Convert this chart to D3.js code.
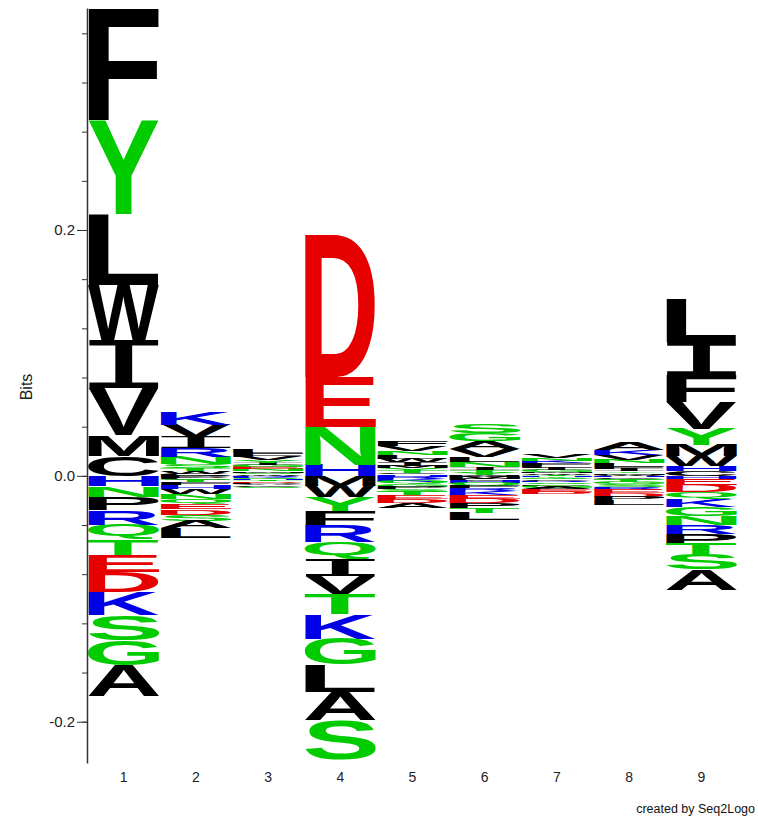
<!DOCTYPE html>
<html>
<head>
<meta charset="utf-8">
<script src="https://cdn.jsdelivr.net/npm/d3@7"></script>
<style>
  body { margin: 0; background: #fff; }
  text { font-family: "Liberation Sans", Arial, Helvetica, sans-serif; }
</style>
</head>
<body>
<div id="logo"></div>
<script>
'use strict';

const width = 758;
const height = 820;

// positions along the sequence
const positions = [1, 2, 3, 4, 5, 6, 7, 8, 9];

// [residue, bits] above zero, listed from the top of the stack down
const pos1Up = [['F', .0920], ['Y', .0756], ['L', .0575], ['W', .0447], ['I', .0390], ['V', .0382], ['M', .0171], ['C', .0163]];
const pos2Up = [['K', .0108], ['V', .0098], ['I', .0090], ['R', .0073], ['N', .0057], ['S', .0033], ['T', .0024], ['W', .0020], ['C', .0018]];
const pos3Up = [['L', .0030], ['F', .0028], ['V', .0025], ['Y', .0022], ['I', .0020], ['G', .0018], ['E', .0016], ['N', .0015], ['M', .0014], ['S', .0013], ['W', .0012]];
const pos4Up = [['D', .1152], ['E', .0407], ['N', .0311], ['H', .0089]];
const pos5Up = [['F', .0040], ['V', .0036], ['N', .0034], ['L', .0032], ['W', .0028], ['I', .0026], ['M', .0022], ['Y', .0020], ['T', .0016], ['C', .0014], ['H', .0012]];
const pos6Up = [['S', .0075], ['G', .0068], ['A', .0065], ['V', .0062], ['L', .0045], ['N', .0040], ['I', .0025], ['T', .0020], ['Y', .0015], ['M', .0010]];
const pos7Up = [['V', .0028], ['N', .0022], ['K', .0020], ['F', .0018], ['L', .0017], ['I', .0016], ['G', .0015], ['M', .0014], ['W', .0011], ['T', .0010]];
const pos8Up = [['A', .0058], ['K', .0042], ['V', .0036], ['N', .0030], ['L', .0026], ['F', .0022], ['I', .0018], ['Y', .0014], ['M', .0012], ['W', .0010]];
const pos9Up = [['L', .0350], ['I', .0268], ['F', .0222], ['V', .0220], ['Y', .0130], ['M', .0089], ['W', .0081], ['C', .0040], ['H', .0040]];

// [residue, bits] below zero, listed from zero downwards
const pos1Down = [['H', .0086], ['N', .0088], ['P', .0108], ['R', .0116], ['Q', .0122], ['T', .0124], ['E', .0136], ['D', .0163], ['K', .0190], ['S', .0203], ['G', .0205], ['A', .0250]];
const pos2Down = [['P', .0016], ['C', .0017], ['T', .0020], ['F', .0021], ['H', .0033], ['W', .0040], ['N', .0041], ['Q', .0042], ['E', .0043], ['D', .0045], ['S', .0049], ['A', .0060], ['L', .0082]];
const pos3Down = [['R', .0008], ['K', .0009], ['Q', .0009], ['H', .0009], ['T', .0010], ['D', .0010], ['P', .0011], ['A', .0012], ['C', .0012], ['S', .0013]];
const pos4Down = [['M', .0081], ['W', .0090], ['Y', .0114], ['F', .0122], ['R', .0130], ['Q', .0138], ['I', .0138], ['V', .0146], ['T', .0163], ['K', .0203], ['G', .0212], ['L', .0220], ['A', .0228], ['S', .0325]];
const pos5Down = [['H', .0012], ['R', .0016], ['K', .0018], ['Q', .0020], ['G', .0021], ['P', .0022], ['S', .0024], ['T', .0026], ['E', .0030], ['D', .0034], ['A', .0042]];
const pos6Down = [['W', .0012], ['M', .0015], ['C', .0016], ['H', .0018], ['Q', .0020], ['F', .0020], ['R', .0024], ['K', .0028], ['E', .0032], ['D', .0036], ['P', .0038], ['T', .0040], ['L', .0058]];
const pos7Down = [['H', .0009], ['Y', .0010], ['Q', .0011], ['C', .0011], ['R', .0012], ['S', .0013], ['P', .0014], ['G', .0015], ['A', .0016], ['E', .0017], ['D', .0018]];
const pos8Down = [['H', .0010], ['C', .0012], ['Q', .0014], ['T', .0016], ['G', .0018], ['S', .0020], ['R', .0022], ['E', .0026], ['D', .0030], ['P', .0032], ['L', .0036]];
const pos9Down = [['H', .0024], ['E', .0049], ['D', .0057], ['Q', .0057], ['K', .0065], ['G', .0073], ['N', .0073], ['R', .0073], ['P', .0081], ['T', .0089], ['S', .0122], ['A', .0163]];

const upStacks = [pos1Up, pos2Up, pos3Up, pos4Up, pos5Up, pos6Up, pos7Up, pos8Up, pos9Up];
const downStacks = [pos1Down, pos2Down, pos3Down, pos4Down, pos5Down, pos6Down, pos7Down, pos8Down, pos9Down];

// y axis ticks
const minorTicks = [-0.2, -0.16, -0.12, -0.08, -0.04, 0, 0.04, 0.08, 0.12, 0.16, 0.2, 0.24, 0.28, 0.32, 0.36];
const majorTicks = [-0.2, 0.0, 0.2];

// residue colour groups
const colorOf = (aa) => {
    if ('DE'.includes(aa)) return '#e60000';
    if ('HKR'.includes(aa)) return '#0000e6';
    if ('YNQTSG'.includes(aa)) return '#00cc00';
    return '#000000';
};
const fontOf = (aa) => aa === 'I'
    ? '"DejaVu Sans Mono", monospace'
    : '"Liberation Sans", Arial, Helvetica, sans-serif';
const weightOf = (aa) => aa === 'I' ? 'normal' : 'bold';

const svg = d3.select('#logo').append('svg')
    .attr('width', width)
    .attr('height', height);

const axisX = 87;

const x = d3.scaleBand()
    .domain(positions)
    .range([88, 737])
    .paddingInner(0.013)
    .paddingOuter(0);

const y = d3.scaleLinear()
    .domain([-0.2336, 0.3806])
    .range([763, 8]);

// tight ink box of each glyph, measured once
const ctx = document.createElement('canvas').getContext('2d');
const boxes = {};
function glyphBox(aa) {
    if (!boxes[aa]) {
        ctx.font = weightOf(aa) + ' 100px ' + fontOf(aa);
        const m = ctx.measureText(aa);
        boxes[aa] = {
            l: m.actualBoundingBoxLeft,
            r: m.actualBoundingBoxRight,
            a: m.actualBoundingBoxAscent,
            d: m.actualBoundingBoxDescent
        };
    }
    return boxes[aa];
}

// build letter rectangles: stack outward from zero, smallest nearest zero
let letters = [];
positions.forEach((p, i) => {
    const up = upStacks[i].slice().sort((a, b) => a[1] - b[1]);
    let acc = 0;
    up.forEach(([aa, v]) => {
        letters.push({ pos: p, aa: aa, top: acc + v, bottom: acc });
        acc += v;
    });
    const down = downStacks[i].slice().sort((a, b) => a[1] - b[1]);
    acc = 0;
    down.forEach(([aa, v]) => {
        letters.push({ pos: p, aa: aa, top: -acc, bottom: -acc - v });
        acc += v;
    });
});

const g = svg.append('g');

g.selectAll('text.letter').data(letters)
    .enter().append('text')
    .attr('class', 'letter')
    .attr('fill', d => colorOf(d.aa))
    .style('font-family', d => fontOf(d.aa))
    .style('font-weight', d => weightOf(d.aa))
    .style('font-size', '100px')
    .attr('transform', d => {
        const b = glyphBox(d.aa);
        const x0 = x(d.pos);
        const y0 = y(d.top);
        const w = x.bandwidth();
        const h = y(d.bottom) - y(d.top);
        const sx = w / (b.l + b.r);
        const sy = h / (b.a + b.d);
        return `translate(${x0},${y0}) scale(${sx},${sy}) translate(${b.l},${b.a})`;
    })
    .text(d => d.aa);

// y axis: minor ticks, then labelled major ticks
svg.append('g')
    .attr('transform', `translate(${axisX},0)`)
    .call(d3.axisLeft(y).tickValues(minorTicks).tickSize(5).tickSizeOuter(0).tickFormat(''))
    .call(a => a.select('.domain').attr('stroke', '#333').attr('stroke-width', 1.5));

svg.append('g')
    .attr('transform', `translate(${axisX},0)`)
    .call(d3.axisLeft(y).tickValues(majorTicks).tickSize(10).tickPadding(2).tickFormat(d => d.toFixed(1)))
    .call(a => a.select('.domain').remove())
    .call(a => a.selectAll('text')
        .style('font-size', '15px')
        .attr('fill', '#222')
        .style('font-family', '"Liberation Sans", Arial, sans-serif'));

svg.selectAll('.tick line').attr('stroke', '#333');

// x axis: position labels only
svg.append('g')
    .attr('transform', 'translate(0,763)')
    .call(d3.axisBottom(x).tickSize(0).tickPadding(9))
    .call(a => a.select('.domain').remove())
    .call(a => a.selectAll('text')
        .style('font-size', '14px')
        .attr('fill', '#222')
        .style('font-family', '"Liberation Sans", Arial, sans-serif'));

svg.append('text')
    .attr('transform', 'translate(32,387) rotate(-90)')
    .attr('text-anchor', 'middle')
    .style('font-size', '16px')
    .attr('fill', '#222')
    .text('Bits');

svg.append('text')
    .attr('x', 755)
    .attr('y', 813)
    .attr('text-anchor', 'end')
    .style('font-size', '12.5px')
    .attr('fill', '#111')
    .text('created by Seq2Logo');
</script>
</body>
</html>
